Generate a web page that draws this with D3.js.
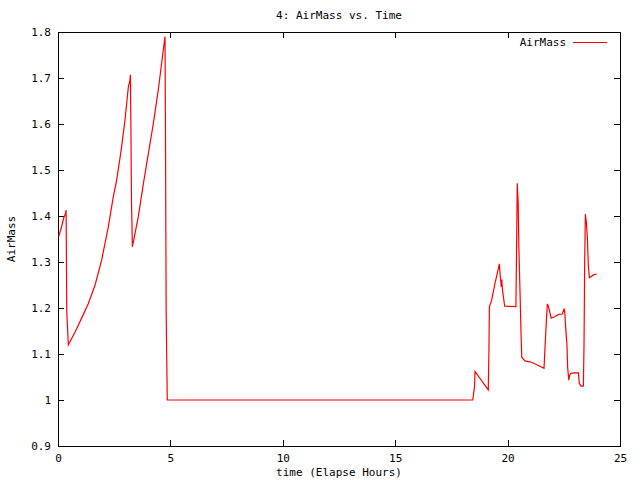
<!DOCTYPE html>
<html>
<head>
<meta charset="utf-8">
<title>4: AirMass vs. Time</title>
<script src="https://cdn.jsdelivr.net/npm/d3@7"></script>
<style>
  body { margin: 0; background: #fff; }
  text { font-family: "DejaVu Sans Mono", monospace; font-size: 11px; fill: #000; }
</style>
</head>
<body>
<script>

// samples: elapsed hours and air mass
var hours = [0.03, 0.15, 0.25, 0.33, 0.36, 0.37, 0.39, 0.46, 0.76, 1.05, 1.35, 1.65, 1.94, 2.24, 2.46, 2.61, 2.80, 2.98, 3.13, 3.20, 3.22, 3.24, 3.27, 3.31, 3.37, 3.57, 3.80, 4.02, 4.24, 4.46, 4.61, 4.72, 4.76, 4.78, 4.81, 4.86,
  18.45, 18.53, 18.55, 19.14, 19.17, 19.19, 19.29, 19.44, 19.59, 19.63, 19.69, 19.72, 19.74, 19.77, 19.87, 20.37, 20.40, 20.43, 20.47, 20.50, 20.55, 20.60, 20.63, 20.77, 21.07, 21.37, 21.62, 21.68, 21.73, 21.77, 21.82, 21.88, 21.94, 22.09, 22.27, 22.43, 22.52, 22.55, 22.58, 22.64, 22.67, 22.72, 22.76, 22.82, 22.96, 23.15, 23.19, 23.27, 23.37, 23.40, 23.43, 23.46, 23.50, 23.55, 23.59, 23.64, 23.82, 23.96];
var airMass = [1.355, 1.375, 1.395, 1.405, 1.413, 1.341, 1.192, 1.120, 1.148, 1.178, 1.210, 1.250, 1.304, 1.377, 1.442, 1.478, 1.540, 1.609, 1.681, 1.695, 1.707, 1.612, 1.428, 1.333, 1.348, 1.398, 1.471, 1.536, 1.601, 1.674, 1.732, 1.775, 1.790, 1.591, 1.196, 1.000,
  1.000, 1.030, 1.062, 1.022, 1.109, 1.203, 1.217, 1.254, 1.286, 1.296, 1.261, 1.246, 1.262, 1.240, 1.204, 1.203, 1.335, 1.471, 1.428, 1.335, 1.239, 1.141, 1.093, 1.085, 1.082, 1.075, 1.069, 1.130, 1.178, 1.209, 1.203, 1.190, 1.178, 1.181, 1.186, 1.187, 1.199, 1.185, 1.159, 1.120, 1.072, 1.043, 1.054, 1.058, 1.059, 1.059, 1.036, 1.030, 1.030, 1.123, 1.308, 1.404, 1.388, 1.352, 1.293, 1.266, 1.272, 1.274];

var xTicks = [0, 5, 10, 15, 20, 25];
var yTicks = [0.9, 1.0, 1.1, 1.2, 1.3, 1.4, 1.5, 1.6, 1.7, 1.8];
var yTickLabels = ["0.9", "1", "1.1", "1.2", "1.3", "1.4", "1.5", "1.6", "1.7", "1.8"];

var w = 640, h = 480;
var plotLeft = 58, plotRight = 620, plotTop = 32, plotBottom = 446;

var svg = d3.select("body").append("svg")
  .attr("width", w)
  .attr("height", h);

var x = d3.scaleLinear().domain([0, 25]).range([plotLeft, plotRight]);
var y = d3.scaleLinear().domain([0.9, 1.8]).range([plotBottom, plotTop]);

// ticks point inward on all four sides, like gnuplot
function styleAxis(g) {
  g.select(".domain").remove();
  g.selectAll(".tick line").attr("stroke", "#000").attr("shape-rendering", "crispEdges");
  g.attr("font-family", null).attr("font-size", null);
}

svg.append("g")
  .attr("transform", "translate(" + plotLeft + ",0)")
  .call(d3.axisLeft(y).tickValues(yTicks).tickSize(-6).tickPadding(7)
    .tickFormat(function(d, i) { return yTickLabels[i]; }))
  .call(styleAxis);

svg.append("g")
  .attr("transform", "translate(" + plotRight + ",0)")
  .call(d3.axisRight(y).tickValues(yTicks).tickSize(-6).tickFormat(""))
  .call(styleAxis);

svg.append("g")
  .attr("transform", "translate(0," + plotBottom + ")")
  .call(d3.axisBottom(x).tickValues(xTicks).tickSize(-6).tickPadding(8).tickFormat(d3.format("d")))
  .call(styleAxis);

svg.append("g")
  .attr("transform", "translate(0," + plotTop + ")")
  .call(d3.axisTop(x).tickValues(xTicks).tickSize(-6).tickFormat(""))
  .call(styleAxis);

// frame
svg.append("rect")
  .attr("x", plotLeft + 0.5)
  .attr("y", plotTop + 0.5)
  .attr("width", plotRight - plotLeft)
  .attr("height", plotBottom - plotTop)
  .attr("fill", "none")
  .attr("stroke", "#000")
  .attr("stroke-width", 1)
  .attr("shape-rendering", "crispEdges");

var line = d3.line()
  .x(function(d, i) { return x(hours[i]); })
  .y(function(d) { return y(d); });

svg.append("path")
  .datum(airMass)
  .attr("d", line)
  .attr("fill", "none")
  .attr("stroke", "red")
  .attr("stroke-width", 1.2);

// titles
svg.append("text")
  .attr("x", (plotLeft + plotRight) / 2)
  .attr("y", 19)
  .attr("text-anchor", "middle")
  .text("4: AirMass vs. Time");

svg.append("text")
  .attr("x", (plotLeft + plotRight) / 2)
  .attr("y", 476)
  .attr("text-anchor", "middle")
  .text("time (Elapse Hours)");

svg.append("text")
  .attr("transform", "translate(15,239) rotate(-90)")
  .attr("text-anchor", "middle")
  .text("AirMass");

// legend
svg.append("text")
  .attr("x", 566)
  .attr("y", 46)
  .attr("text-anchor", "end")
  .text("AirMass");

svg.append("line")
  .attr("x1", 573).attr("x2", 607)
  .attr("y1", 42.5).attr("y2", 42.5)
  .attr("stroke", "red")
  .attr("stroke-width", 1);

</script>
</body>
</html>
